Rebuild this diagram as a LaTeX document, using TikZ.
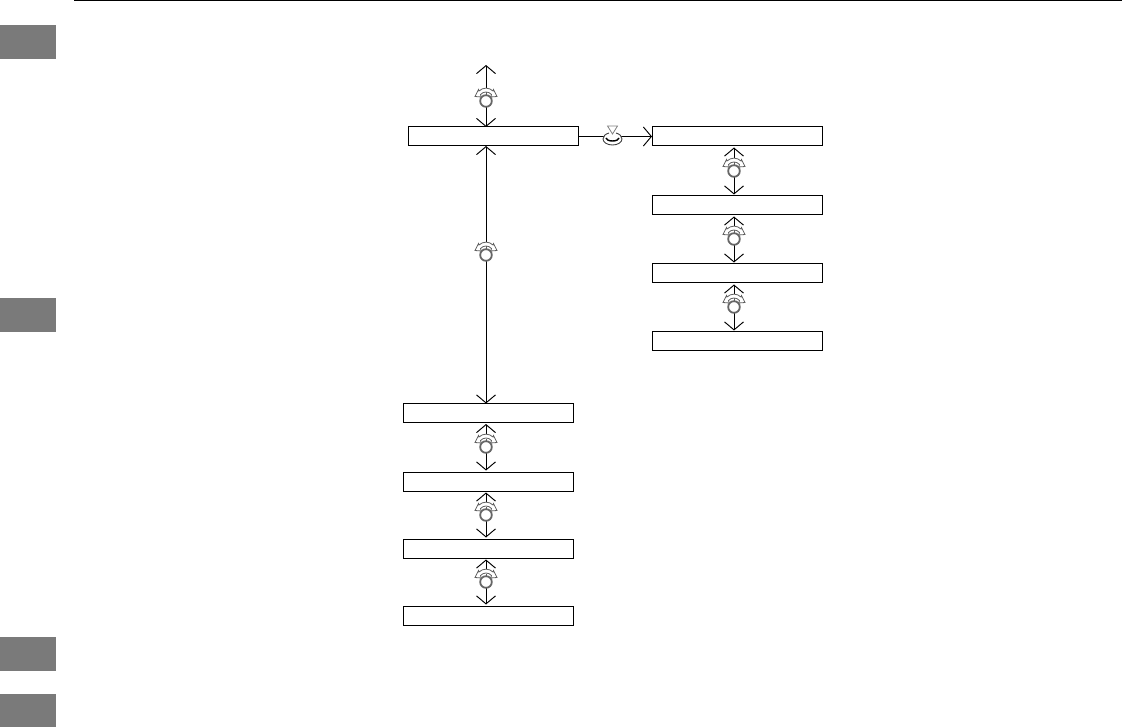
\documentclass[tikz,border=0pt]{standalone}
\usetikzlibrary{arrows.meta}
\tikzset{
  x=1pt,y=-1pt,
  tabbox/.style={draw=black,line width=1pt,fill=white,minimum width=170pt,minimum height=19pt,inner sep=0pt,outer sep=0pt,anchor=center},
  grayblock/.style={fill=black!52,draw=none,minimum width=56pt,inner sep=0pt,outer sep=0pt,anchor=north west},
  link/.style={line width=.95pt,draw=black,{Straight Barb[length=8pt,width=19pt,line width=.95pt]}-{Straight Barb[length=8pt,width=19pt,line width=.95pt]}},
  shortlink/.style={link,shorten >=1.5pt,shorten <=1.5pt},
  onelink/.style={line width=.95pt,draw=black,-{Straight Barb[length=8pt,width=19pt,line width=.95pt]}},
  dialline/.style={draw=black!62,line width=.8pt,line join=miter},
  dial/.pic={
    \coordinate (-c) at (0,0);
    \fill[white] (-8,-12.5) rectangle (8,6);
    \draw[black!60,line width=1.8pt,fill=white] (0,0) circle (5.8);
    \draw[dialline,fill=white] (-7,-10) .. controls (-3,-13.8) and (3,-13.8) .. (7,-10) -- (7.5,-11.5) -- (11,-4.5) -- (4.8,-4) -- (5.5,-6.5)
       .. controls (2.5,-9.8) and (-2.5,-9.8) .. (-5.5,-6.5) -- (-4.8,-4) -- (-11,-4.5) -- (-7.5,-11.5) -- cycle;
    \draw[dialline] (0,-5.5) -- (0,-8.5);
  },
  pushbtn/.pic={
    \coordinate (-c) at (0,0);
    \fill[white] (0,0) ellipse[x radius=9.5,y radius=6];
    \draw[black!75,line width=.9pt] (-3.5,-6) .. controls (-7,-5) and (-9.5,-3) .. (-9.5,0) arc[start angle=180,end angle=0,x radius=9.5,y radius=6] .. controls (9.5,-3) and (7,-5) .. (3.5,-6);
    \draw[black!50,line width=.8pt,fill=white] (-5,-13) -- (5,-13) -- (0,-5) -- cycle;
    \draw[black,line width=1.4pt] (-6.5,-1) arc[start angle=180,end angle=0,x radius=6.5,y radius=3];
  }
}
\begin{document}
\begin{tikzpicture}
\useasboundingbox (0,0) rectangle (1122,727);
\coordinate (rs) at (74,0.5);
\coordinate (re) at (1122,0.5);
\draw[line width=1.1pt] (rs) -- (re);
\node[grayblock,minimum height=34pt] (g1) at (0,25) {};
\node[grayblock,minimum height=34pt] (g2) at (0,298) {};
\node[grayblock,minimum height=34pt] (g3) at (0,637) {};
\node[grayblock,minimum height=33pt] (g4) at (0,694) {};
\node[tabbox] (t) at (493.5,136.5) {};
\node[tabbox] (r1) at (737,136.5) {};
\node[tabbox] (r2) at (737,205.5) {};
\node[tabbox] (r3) at (737,273.5) {};
\node[tabbox] (r4) at (737,341.5) {};
\node[tabbox] (l1) at (488,413) {};
\node[tabbox] (l2) at (488,481.5) {};
\node[tabbox] (l3) at (488,548.5) {};
\node[tabbox] (l4) at (488,615.5) {};
\coordinate (top) at (486,65);
\coordinate (lx) at (486,0);
\coordinate (rx) at (734,0);
\draw[link] (top) -- (lx |- t.north);
\draw[link] (lx |- t.south) -- (lx |- l1.north);
\draw[shortlink] (lx |- l1.south) -- (lx |- l2.north);
\draw[shortlink] (lx |- l2.south) -- (lx |- l3.north);
\draw[shortlink] (lx |- l3.south) -- (lx |- l4.north);
\draw[shortlink] (rx |- r1.south) -- (rx |- r2.north);
\draw[shortlink] (rx |- r2.south) -- (rx |- r3.north);
\draw[shortlink] (rx |- r3.south) -- (rx |- r4.north);
\draw[onelink] (t.east) -- (r1.west);
\pic (d0) at (486,101) {dial};
\pic (d1) at (486,255) {dial};
\pic (d2) at (486,447) {dial};
\pic (d3) at (486,515) {dial};
\pic (d4) at (486,582) {dial};
\pic (d5) at (734,171) {dial};
\pic (d6) at (734,239) {dial};
\pic (d7) at (734,307) {dial};
\pic (b) at (612.5,139) {pushbtn};
\end{tikzpicture}
\end{document}
